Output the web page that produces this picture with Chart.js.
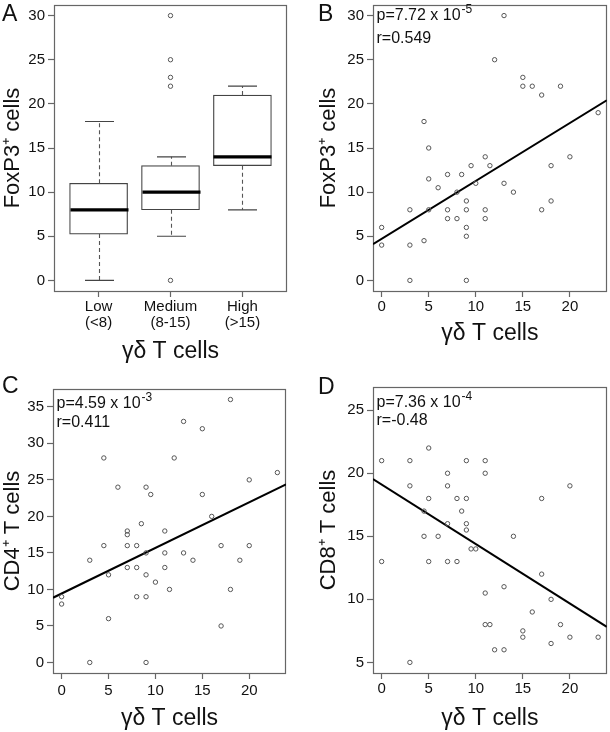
<!DOCTYPE html>
<html><head><meta charset="utf-8">
<script src="https://cdn.jsdelivr.net/npm/chart.js@4"></script>
<style>
html,body{margin:0;padding:0;background:#fff;}
body{width:610px;height:732px;position:relative;overflow:hidden;font-family:'Liberation Sans',Arial,sans-serif;}
.panel{position:absolute;}
.letter{position:absolute;font-size:23px;color:#111;line-height:1;font-family:'Liberation Sans',Arial,sans-serif;}
</style></head><body>
<div class="panel" style="left:0;top:0;width:305px;height:365px"><canvas id="cA"></canvas></div>
<div class="panel" style="left:305px;top:0;width:305px;height:365px"><canvas id="cB"></canvas></div>
<div class="panel" style="left:0;top:365px;width:305px;height:367px"><canvas id="cC"></canvas></div>
<div class="panel" style="left:305px;top:365px;width:305px;height:367px"><canvas id="cD"></canvas></div>
<div class="letter" style="left:2px;top:2px">A</div>
<div class="letter" style="left:318px;top:2px">B</div>
<div class="letter" style="left:2px;top:374px">C</div>
<div class="letter" style="left:318px;top:375px">D</div>
<script>
// ---------- data ----------
const boxCategories = ['Low', 'Medium', 'High'];
const boxSubLabels = ['(<8)', '(8-15)', '(>15)'];
const boxWhiskerLow = [0, 5, 8];
const boxQ1 = [5.25, 8, 13];
const boxMedian = [8, 10, 14];
const boxQ3 = [11, 13, 21];
const boxWhiskerHigh = [18, 14, 22];
const outlierCategory = ['Medium', 'Medium', 'Medium', 'Medium', 'Medium'];
const outlierValues = [0, 22, 23, 25, 30];

const foxGD = [13,12,15,15,16,17,19,23,4.5,5,5,6,7,8.5,9.5,11,11.5,10,13,14,8,5,3,7,7,8,9,9,9,9,11,11,17,18,18,20,0,0,3,4.5,3,9];
const foxP3 = [30,25,23,22,22,21,22,19,18,15,11.5,10.5,12,12,13,14,13,11,11,10,10,8,8,8,7,7,9,8,6,5,8,7,8,9,13,14,6,4,4,4.5,0,0];

const cd4GD = [18,13,15,4.5,12,23,20,6,9,9.5,15,16,8.5,7,7,11,4.5,7,8,17,20,9,11,13,3,14,19,7,8,11,5,9,10,11.5,18,0,0,8,9,5,17,3,9];
const cd4T = [36,33,32,28,28,26,25,24,24,23,23,20,19,18,17.5,18,16,16,16,16,16,15,15,15,14,14,14,13,13,13,12,12,11,10,10,9,8,9,9,6,5,0,0];

const cd8GD = [0,0,3,3,3,5,5,5,4.5,4.5,6,7,7,7,7,8,8,8.5,9,9,9,9,9.5,10,11,11,11,11,11.5,12,13,13,14,15,15,16,17,17,18,18,19,20,20,23];
const cd8T = [21,13,21,19,5,22,18,13,17,15,15,20,19,16,13,18,13,17,21,18,16,15.5,14,14,21,20,10.5,8,8,6,11,6,15,7.5,7,9,18,12,10,6.5,8,19,7,7];

const fitFox = {intercept: 4.72, slope: 0.656};
const fitCD4 = {intercept: 9.44, slope: 0.625};
const fitCD8 = {intercept: 19.11, slope: -0.472};

const statFox = {p: '7.72', exp: '-5', r: '0.549'};
const statCD4 = {p: '4.59', exp: '-3', r: '0.411'};
const statCD8 = {p: '7.36', exp: '-4', r: '-0.48'};

const yTicksFox = [0, 5, 10, 15, 20, 25, 30];
const yTicksCD4 = [0, 5, 10, 15, 20, 25, 30, 35];
const yTicksCD8 = [5, 10, 15, 20, 25];
const xTicksGD = [0, 5, 10, 15, 20];

// ---------- styles ----------
const FONT = "'Liberation Sans', Arial, sans-serif";
Chart.defaults.font.family = FONT;
Chart.defaults.color = '#111';
const FRAME = '#666';
const BOX_PX = 58;

const framePlugin = {
  id: 'frame',
  beforeDatasetsDraw(chart) {
    const a = chart.chartArea, ctx = chart.ctx;
    ctx.save();
    ctx.strokeStyle = FRAME; ctx.lineWidth = 1.2;
    ctx.strokeRect(Math.round(a.left) + 0.5, Math.round(a.top) + 0.5, Math.round(a.right - a.left) - 1, Math.round(a.bottom - a.top));
    ctx.restore();
  }
};

const annotPlugin = {
  id: 'annot',
  afterDatasetsDraw(chart, args, opts) {
    if (!opts || !opts.stat) return;
    const ctx = chart.ctx, a = chart.chartArea, s = opts.stat;
    ctx.save();
    ctx.fillStyle = '#111';
    ctx.textBaseline = 'middle';
    ctx.textAlign = 'left';
    ctx.font = '16px ' + FONT;
    const x = a.left + 3.5;
    const t1 = 'p=' + s.p + ' x 10';
    ctx.fillText(t1, x, a.top + opts.py);
    const w = ctx.measureText(t1).width;
    ctx.font = '12px ' + FONT;
    ctx.fillText(s.exp, x + w + 1, a.top + opts.py - 6);
    ctx.font = '16px ' + FONT;
    ctx.fillText('r=' + s.r, x, a.top + opts.ry);
    ctx.restore();
  }
};

const boxWhiskerPlugin = {
  id: 'boxWhisker',
  afterDatasetsDraw(chart) {
    const ctx = chart.ctx, xs = chart.scales.x, ys = chart.scales.y;
    ctx.save();
    boxCategories.forEach((c, i) => {
      const px = Math.round(xs.getPixelForValue(i + 1)) + 0.5;
      const yl = ys.getPixelForValue(boxWhiskerLow[i]);
      const y1 = ys.getPixelForValue(boxQ1[i]);
      const y3 = ys.getPixelForValue(boxQ3[i]);
      const yh = ys.getPixelForValue(boxWhiskerHigh[i]);
      const ym = ys.getPixelForValue(boxMedian[i]);
      ctx.strokeStyle = '#555'; ctx.lineWidth = 1.1;
      ctx.setLineDash([4, 3]);
      ctx.beginPath();
      ctx.moveTo(px, y1); ctx.lineTo(px, yl);
      ctx.moveTo(px, y3); ctx.lineTo(px, yh);
      ctx.stroke();
      ctx.setLineDash([]);
      ctx.strokeStyle = '#444'; ctx.lineWidth = 1.2;
      ctx.beginPath();
      ctx.moveTo(px - BOX_PX / 4, yl); ctx.lineTo(px + BOX_PX / 4, yl);
      ctx.moveTo(px - BOX_PX / 4, yh); ctx.lineTo(px + BOX_PX / 4, yh);
      ctx.stroke();
      ctx.strokeStyle = '#000'; ctx.lineWidth = 3.2;
      ctx.beginPath();
      ctx.moveTo(px - BOX_PX / 2, ym); ctx.lineTo(px + BOX_PX / 2, ym);
      ctx.stroke();
    });
    ctx.restore();
  }
};

function tickSetter(list) {
  return s => { s.ticks = list.map(v => ({value: v})); };
}
function fitter(prop, size) {
  return s => { s[prop] = size; s.paddingTop = 0; s.paddingBottom = 0; s.paddingLeft = 0; s.paddingRight = 0; };
}
function xAxis(min, max, ticks, o) {
  return {
    type: 'linear', min: min, max: max, offset: false,
    afterBuildTicks: tickSetter(ticks),
    afterFit: fitter('height', o.height),
    ticks: Object.assign({font: {size: 15, lineHeight: 1.1}, color: '#111', padding: o.tickPad, maxRotation: 0, autoSkip: false}, o.cb ? {callback: o.cb} : {}),
    grid: {display: true, offset: false, drawOnChartArea: false, drawTicks: true, tickLength: 6, color: FRAME, tickWidth: 1.2},
    border: {display: false},
    title: {display: true, text: 'γδ T cells', font: {size: 23}, color: '#111', padding: {top: 0, bottom: o.titlePad}}
  };
}
function yAxis(min, max, ticks, o) {
  return {
    type: 'linear', min: min, max: max,
    afterBuildTicks: tickSetter(ticks),
    afterFit: fitter('width', o.width),
    ticks: {font: {size: 15}, color: '#111', padding: 3},
    grid: {display: true, drawOnChartArea: false, drawTicks: true, tickLength: 6, color: FRAME, tickWidth: 1.2},
    border: {display: false},
    title: {display: true, text: o.title, font: {size: 22}, color: '#111', padding: {top: o.titlePad, bottom: 0}}
  };
}
const pointStyle = {pointRadius: 2.2, pointBorderColor: '#555', pointBackgroundColor: 'rgba(0,0,0,0)', pointBorderWidth: 1, pointHoverRadius: 2.2};

const common = {
  responsive: true, maintainAspectRatio: false, animation: false, events: [],
  plugins: {legend: {display: false}, tooltip: {enabled: false}}
};

// ---------- Panel A ----------
new Chart(document.getElementById('cA'), {
  type: 'bar',
  data: {
    datasets: [
      {type: 'bar', data: boxCategories.map((c, i) => ({x: i + 1, y: [boxQ1[i], boxQ3[i]]})),
       backgroundColor: '#fff', borderColor: '#444', borderWidth: 1.2, borderSkipped: false, barThickness: BOX_PX, order: 2},
      Object.assign({type: 'scatter', data: outlierCategory.map((c, i) => ({x: boxCategories.indexOf(c) + 1, y: outlierValues[i]})), order: 1}, pointStyle)
    ]
  },
  options: Object.assign({}, common, {
    layout: {padding: {top: 5, right: 18, left: 0, bottom: 0}},
    scales: {
      x: xAxis(0.38, 3.62, [1, 2, 3], {height: 74, tickPad: 1.5, titlePad: 0, cb: v => [boxCategories[v - 1], boxSubLabels[v - 1]]}),
      y: yAxis(-1.2, 31.2, yTicksFox, {width: 54, title: 'FoxP3⁺ cells', titlePad: 0})
    }
  }),
  plugins: [framePlugin, boxWhiskerPlugin]
});

function scatterChart(id, xs, ys, fit, stat, yr, yTicks, o) {
  const X0 = -0.92, X1 = 23.92;
  new Chart(document.getElementById(id), {
    type: 'scatter',
    data: {
      datasets: [
        Object.assign({data: xs.map((v, i) => ({x: v, y: ys[i]})), order: 1}, pointStyle),
        {type: 'line', data: [{x: X0, y: fit.intercept + fit.slope * X0}, {x: X1, y: fit.intercept + fit.slope * X1}],
         borderColor: '#000', borderWidth: 2, pointRadius: 0, showLine: true, fill: false, order: 2}
      ]
    },
    options: Object.assign({}, common, {
      layout: {padding: {top: o.top, right: o.right, left: 0, bottom: 0}},
      plugins: {legend: {display: false}, tooltip: {enabled: false}, annot: {stat: stat, py: o.py, ry: o.ry}},
      scales: {
        x: xAxis(X0, X1, xTicksGD, {height: o.xh, tickPad: o.tickPad, titlePad: o.xtPad}),
        y: yAxis(yr[0], yr[1], yTicks, {width: o.yw, title: o.title, titlePad: o.ytPad})
      }
    }),
    plugins: [framePlugin, annotPlugin]
  });
}

scatterChart('cB', foxGD, foxP3, fitFox, statFox, [-1.2, 31.2], yTicksFox,
  {top: 5, right: 1, xh: 74, tickPad: 2, xtPad: 18, yw: 68, ytPad: 10.8, title: 'FoxP3⁺ cells', py: 11, ry: 34});
scatterChart('cC', cd4GD, cd4T, fitCD4, statCD4, [-1.44, 37.44], yTicksCD4,
  {top: 24, right: 19, xh: 59, tickPad: 4, xtPad: 0, yw: 53, ytPad: 0, title: 'CD4⁺ T cells', py: 15, ry: 34});
scatterChart('cD', cd8GD, cd8T, fitCD8, statCD8, [4.16, 26.84], yTicksCD8,
  {top: 22, right: 1, xh: 59, tickPad: 2, xtPad: 0, yw: 68, ytPad: 10.8, title: 'CD8⁺ T cells', py: 16, ry: 34});
</script>
</body></html>
